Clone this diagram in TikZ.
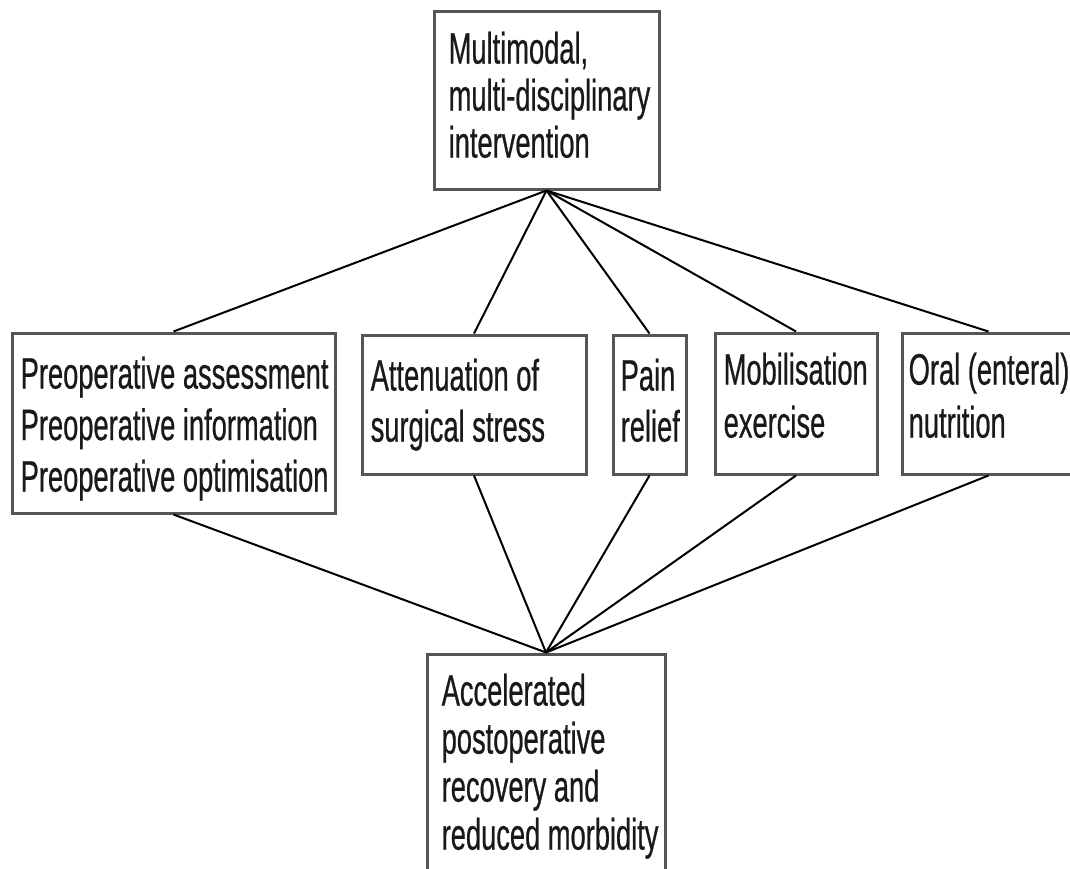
\documentclass[tikz,border=0pt]{standalone}
\usepackage{fontspec}
\newfontfamily\narrowfont[FakeStretch=0.62,FakeBold=0.5]{Liberation Sans}
\definecolor{boxgray}{HTML}{555555}
\tikzset{
  boxnode/.style={draw=boxgray, line width=3pt, inner sep=0pt, fill=white},
  txtnode/.style={inner sep=0pt, anchor=north west, align=left, font=\narrowfont\fontsize{44}{50}\selectfont, text=black!90},
  link/.style={line width=2pt, black}
}
\begin{document}
\begin{tikzpicture}[x=1pt,y=-1pt]
\useasboundingbox (0,0) rectangle (1070,868);
% boxes
\node[boxnode, minimum width=225pt, minimum height=178pt] (top) at (546.5,100) {};
\node[boxnode, minimum width=323pt, minimum height=180pt] (pre) at (173.5,423) {};
\node[boxnode, minimum width=224pt, minimum height=139pt] (att) at (474,404.5) {};
\node[boxnode, minimum width=73pt, minimum height=139pt] (pain) at (649.5,404.5) {};
\node[boxnode, minimum width=162pt, minimum height=141pt] (mob) at (796,403.5) {};
\node[boxnode, minimum width=173pt, minimum height=141pt] (oral) at (988.5,403.5) {};
\node[boxnode, minimum width=238pt, minimum height=226pt] (bot) at (546,767) {};
% connectors
\foreach \n in {pre,att,pain,mob,oral}{
  \draw[link] (top.south) -- (\n.north);
  \draw[link] (\n.south) -- (bot.north);
}
% texts
\node[txtnode, font=\narrowfont\fontsize{44}{47}\selectfont] (ttop) at ([shift={(16pt,-22pt)}]top.north west) {Multimodal,\\multi-disciplinary\\intervention};
\node[txtnode, font=\narrowfont\fontsize{44}{51.5}\selectfont] (tpre) at ([shift={(10pt,-25pt)}]pre.north west) {Preoperative assessment\\Preoperative information\\Preoperative optimisation};
\node[txtnode, font=\narrowfont\fontsize{44}{51}\selectfont] (tatt) at ([shift={(10pt,-25pt)}]att.north west) {Attenuation of\\surgical stress};
\node[txtnode, font=\narrowfont\fontsize{44}{51}\selectfont] (tpain) at ([shift={(9pt,-25pt)}]pain.north west) {Pain\\relief};
\node[txtnode, font=\narrowfont\fontsize{44}{53}\selectfont] (tmob) at ([shift={(10pt,-21pt)}]mob.north west) {Mobilisation\\exercise};
\node[txtnode, font=\narrowfont\fontsize{44}{53}\selectfont] (toral) at ([shift={(8pt,-21pt)}]oral.north west) {Oral (enteral)\\nutrition};
\node[txtnode, font=\narrowfont\fontsize{44}{48}\selectfont] (tbot) at ([shift={(16pt,-21pt)}]bot.north west) {Accelerated\\postoperative\\recovery and\\reduced morbidity};
\end{tikzpicture}
\end{document}
